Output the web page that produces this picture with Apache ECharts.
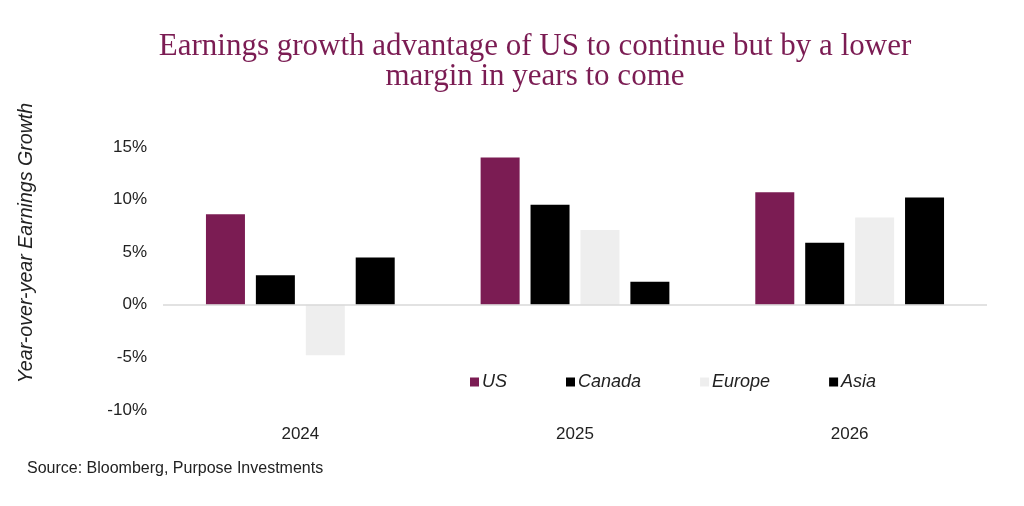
<!DOCTYPE html>
<html>
<head>
<meta charset="utf-8">
<script src="https://cdn.jsdelivr.net/npm/echarts@6/dist/echarts.min.js"></script>
<style>html,body{margin:0;padding:0;background:#fff}#c{width:1024px;height:506px}</style>
</head>
<body>
<div id="c"></div>
<script>
const categories = ['2024', '2025', '2026'];
const usValues = [8.6, 14.0, 10.7];
const canadaValues = [2.8, 9.5, 5.9];
const europeValues = [-4.8, 7.1, 8.3];
const asiaValues = [4.5, 2.2, 10.2];
const seriesNames = ['US', 'Canada', 'Europe', 'Asia'];
const yTicks = [-10, -5, 0, 5, 10, 15];

const colors = ['#7b1c53', '#000000', '#eeeeee', '#000000'];
const dataSets = [usValues, canadaValues, europeValues, asiaValues];
const sans = '"Liberation Sans", Arial, sans-serif';

const chart = echarts.init(document.getElementById('c'));
chart.setOption({
  animation: false,
  backgroundColor: '#ffffff',
  title: [{
    text: 'Earnings growth advantage of US to continue but by a lower\nmargin in years to come',
    left: 530, top: 27, textAlign: 'center',
    textStyle: { fontFamily: '"Liberation Serif", Georgia, serif', fontWeight: 'normal', fontSize: 31, lineHeight: 30, color: '#7b1c53', align: 'center' }
  }, {
    text: 'Source: Bloomberg, Purpose Investments',
    left: 27, top: 461, padding: 0,
    textStyle: { fontFamily: sans, fontWeight: 'normal', fontSize: 16, color: '#222' }
  }],
  graphic: [{
    type: 'text', x: 27, y: 243, rotation: Math.PI / 2,
    style: {
      text: 'Year-over-year Earnings Growth',
      font: 'italic 19.6px "Liberation Sans", Arial, sans-serif',
      fill: '#222', align: 'center', verticalAlign: 'middle'
    }
  }],
  legend: {
    data: seriesNames,
    left: 465, top: 368,
    itemWidth: 9, itemHeight: 9, itemGap: 59,
    icon: 'rect',
    textStyle: { fontFamily: sans, fontStyle: 'italic', fontSize: 18, color: '#222', padding: [0, 0, 0, -2] }
  },
  grid: { left: 163, right: 37, top: 147, bottom: 96, containLabel: false },
  xAxis: {
    type: 'category', data: categories,
    axisLine: { show: false }, axisTick: { show: false },
    axisLabel: { fontFamily: sans, fontSize: 17, color: '#222', margin: 16 }
  },
  yAxis: {
    type: 'value', min: -10, max: 15, interval: 5,
    axisLine: { show: false }, axisTick: { show: false }, splitLine: { show: false },
    axisLabel: {
      fontFamily: sans, fontSize: 17, color: '#222', margin: 16,
      formatter: v => (yTicks.indexOf(v) >= 0 ? v + '%' : '')
    }
  },
  series: seriesNames.map((n, i) => ({
    name: n, type: 'bar', data: dataSets[i],
    barWidth: 39, barGap: '28%',
    itemStyle: { color: colors[i] },
    markLine: i === 0 ? {
      silent: true, symbol: 'none', label: { show: false },
      lineStyle: { color: '#d9d9d9', type: 'solid', width: 1.5 },
      data: [{ yAxis: 0 }]
    } : undefined,
    z: 3
  }))
});
</script>
</body>
</html>
